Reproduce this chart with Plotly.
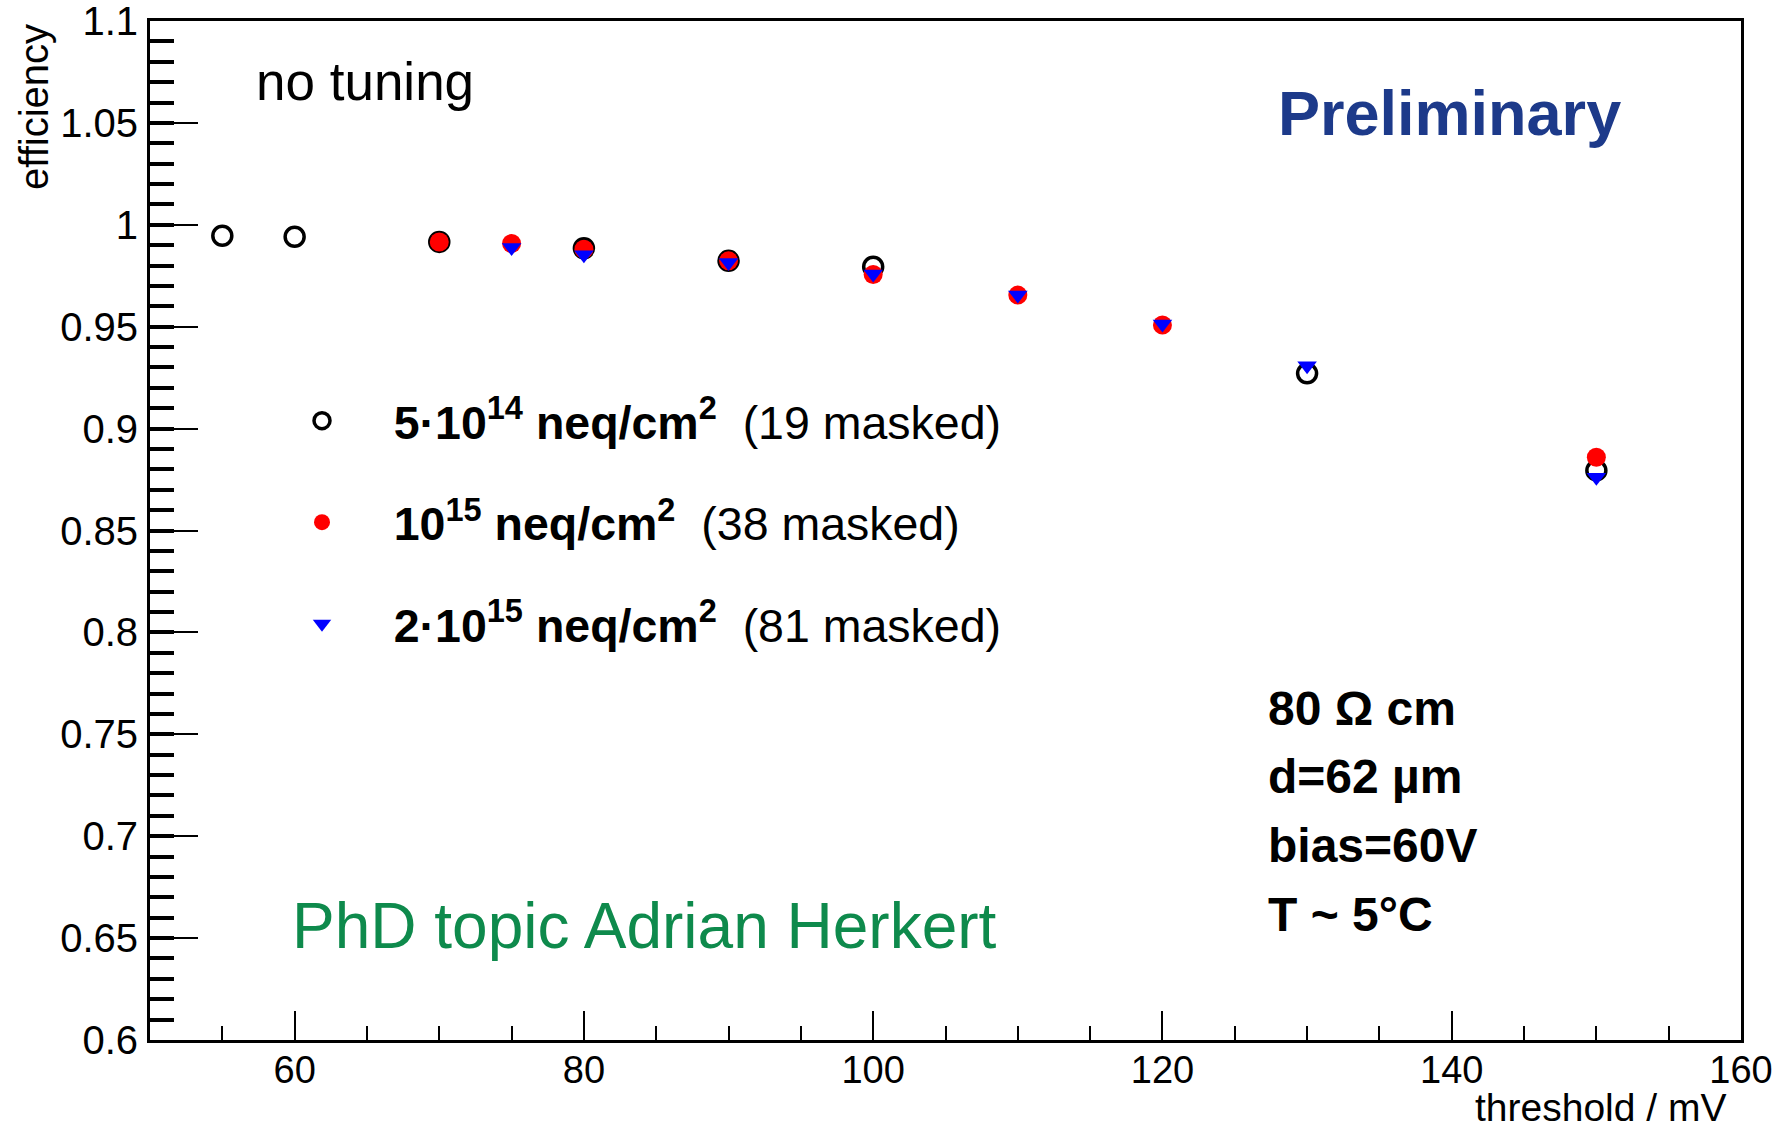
import plotly.graph_objects as go

# ---------------- data ----------------
thr_5e14 = [55, 60, 70, 80, 90, 100, 130, 150]
eff_5e14 = [0.9946, 0.9941, 0.9916, 0.9885, 0.9823, 0.9794, 0.9271, 0.8795]

thr_1e15 = [70, 75, 80, 90, 100, 110, 120, 150]
eff_1e15 = [0.9916, 0.9908, 0.9880, 0.9823, 0.9756, 0.9655, 0.9508, 0.8859]

thr_2e15 = [75, 80, 90, 100, 110, 120, 130, 150]
eff_2e15 = [0.9889, 0.9853, 0.9815, 0.9758, 0.9655, 0.9513, 0.9308, 0.8761]

y_tickvals = [0.6, 0.65, 0.7, 0.75, 0.8, 0.85, 0.9, 0.95, 1.0, 1.05, 1.1]
y_ticktext = ["0.6", "0.65", "0.7", "0.75", "0.8", "0.85", "0.9", "0.95", "1", "1.05", "1.1"]
x_tickvals = [60, 80, 100, 120, 140, 160]
x_ticktext = ["60", "80", "100", "120", "140", "160"]

series_names = [
    "<b>5·10<sup>14</sup> neq/cm<sup>2</sup></b>\u00a0\u00a0(19 masked)",
    "<b>10<sup>15</sup> neq/cm<sup>2</sup></b>\u00a0\u00a0(38 masked)",
    "<b>2·10<sup>15</sup> neq/cm<sup>2</sup></b>\u00a0\u00a0(81 masked)",
]
info_lines = ["80 Ω cm", "d=62 µm", "bias=60V", "T ~ 5°C"]

# ---------------- layout geometry ----------------
W, H = 1791, 1131
ML, MR, MT, MB = 150, 50, 21, 91
PW, PH = W - ML - MR, H - MT - MB
FONT = "Liberation Sans, Arial, Helvetica, sans-serif"


def px(x):
    return (x - ML) / PW


def py(y):
    return (H - MB - y) / PH


pad = "\u00a0" * 4

fig = go.Figure()
fig.add_trace(go.Scatter(
    x=thr_5e14, y=eff_5e14, mode="markers", name=pad + series_names[0],
    legendgroup="g1",
    marker=dict(symbol="circle-open", size=19, color="black",
                line=dict(width=3.5, color="black")),
))
fig.add_trace(go.Scatter(
    x=thr_1e15, y=eff_1e15, mode="markers", name=pad + series_names[1],
    legendgroup="g2",
    marker=dict(symbol="circle", size=19, color="#ff0000", line=dict(width=0)),
))
fig.add_trace(go.Scatter(
    x=thr_2e15, y=eff_2e15, mode="markers", name=pad + series_names[2],
    legendgroup="g3",
    marker=dict(symbol="triangle-down", size=17, color="#0000ff", line=dict(width=0)),
))

annotations = [
    dict(text="efficiency", x=px(34), y=py(22), textangle=-90,
         xanchor="center", yanchor="top", font=dict(size=40)),
    dict(text="threshold / mV", x=px(1728), y=py(1131),
         xanchor="right", yanchor="bottom", font=dict(size=39)),
    dict(text="no tuning", x=px(254), y=py(81),
         xanchor="left", yanchor="middle", font=dict(size=53)),
    dict(text="<b>Preliminary</b>", x=px(1276), y=py(113),
         xanchor="left", yanchor="middle", font=dict(size=63, color="#1d3a8a")),
    dict(text="PhD topic Adrian Herkert", x=px(290), y=py(926),
         xanchor="left", yanchor="middle", font=dict(size=64, color="#0e8a4c")),
]
for i, (line, yc) in enumerate(zip(info_lines, [708, 776, 845, 914])):
    annotations.append(dict(text="<b>" + line + "</b>", x=px(1266), y=py(yc),
                            xanchor="left", yanchor="middle",
                            font=dict(size=48)))
for a in annotations:
    a.update(xref="paper", yref="paper", showarrow=False)
    a["font"].setdefault("color", "black")
    a["font"]["family"] = FONT

fig.update_layout(
    width=W, height=H,
    margin=dict(l=ML, r=MR, t=MT, b=MB, pad=0, autoexpand=False),
    paper_bgcolor="white", plot_bgcolor="white",
    font=dict(family=FONT, size=38, color="black"),
    showlegend=True,
    legend=dict(x=px(302), y=py(384), xanchor="left", yanchor="top",
                bgcolor="rgba(0,0,0,0)", borderwidth=0,
                font=dict(size=46.5, family=FONT, color="black"),
                tracegroupgap=38, traceorder="grouped"),
    annotations=annotations,
    xaxis=dict(
        range=[50, 160], showgrid=False, zeroline=False, automargin=False,
        showline=True, linecolor="black", linewidth=3, mirror=True,
        tickmode="array", tickvals=x_tickvals, ticktext=x_ticktext,
        ticks="inside", ticklen=29, tickwidth=2, tickcolor="black",
        minor=dict(dtick=5, tick0=50, ticks="inside", ticklen=14,
                   tickwidth=2, tickcolor="black"),
        tickfont=dict(size=38), ticklabelstandoff=-6,
        ticklabeloverflow="allow",
    ),
    yaxis=dict(
        range=[0.6, 1.1], showgrid=False, zeroline=False, automargin=False,
        showline=True, linecolor="black", linewidth=3, mirror=True,
        tickmode="array", tickvals=y_tickvals, ticktext=y_ticktext,
        ticks="inside", ticklen=48, tickwidth=2, tickcolor="black",
        minor=dict(dtick=0.01, tick0=0.6, ticks="inside", ticklen=24,
                   tickwidth=3.5, tickcolor="black"),
        tickfont=dict(size=40), ticklabelstandoff=1,
        ticklabeloverflow="allow",
    ),
)

fig.write_html("out.html")
